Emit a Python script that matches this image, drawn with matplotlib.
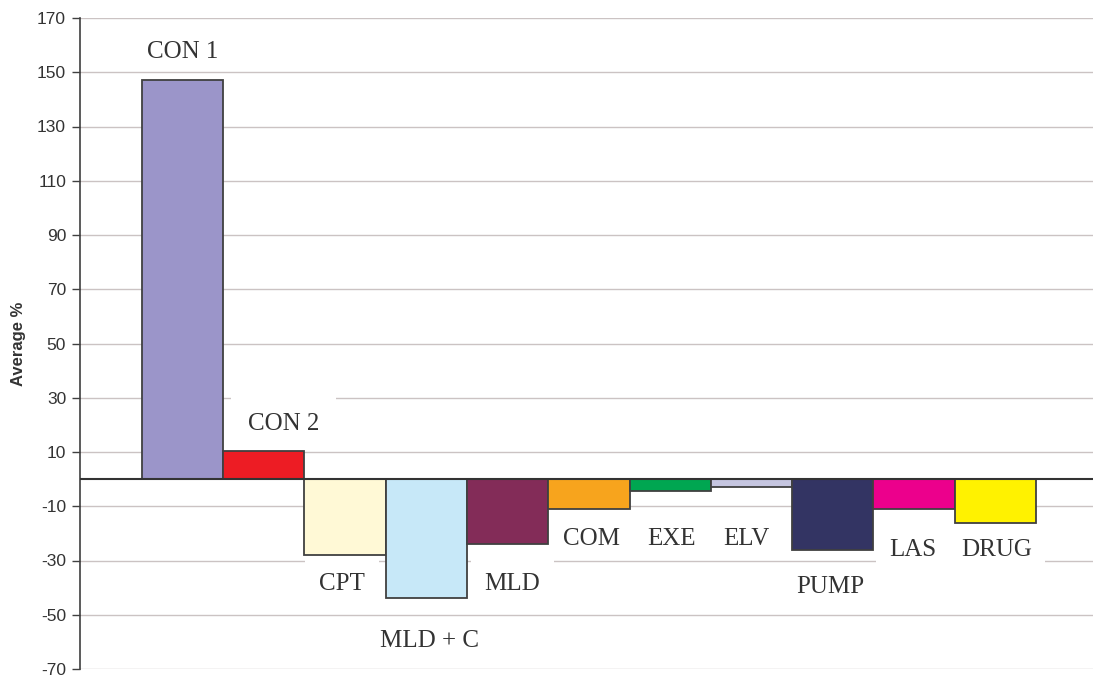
import matplotlib
matplotlib.use('Agg')
import matplotlib.pyplot as plt
import numpy as np

plt.rcParams['axes.unicode_minus'] = False

# data
categories = ['CON 1', 'CON 2', 'CPT', 'MLD + C', 'MLD', 'COM', 'EXE', 'ELV', 'PUMP', 'LAS', 'DRUG']
values = [147, 10.5, -28, -44, -24, -11, -4.5, -3, -26, -11, -16]
colors = ['#9b95c9', '#ed1c24', '#fff9d6', '#c7e8f8', '#832c58', '#f7a41d',
          '#00a651', '#c5c5e0', '#333463', '#ec008c', '#fff200']

# label placement (x in category units, y in data units) and white box pad (pt)
label_x = [0, 1.24, 1.96, 3.04, 4.06, 5.03, 6.02, 6.94, 7.97, 8.98, 10.01]
label_y = [157.5, 20.5, -38.5, -59.5, -38.5, -22, -22, -22, -39.8, -26, -26]
label_pad = [4, 12, 10, 5, 10, 4, 4, 4, 4, 9.5, 9.5]

fig = plt.figure(figsize=(10.93, 6.79), dpi=100)
ax = fig.add_axes([80 / 1093, 10 / 679, 1013 / 1093, 651 / 679])

x = np.arange(len(categories))
ax.bar(x, values, width=1.0, color=colors, edgecolor='#404040', linewidth=1.3, zorder=3)
ax.axhline(0, color='#333333', linewidth=1.5, zorder=4)

for xi, yi, txt, pad in zip(label_x, label_y, categories, label_pad):
    ax.text(xi, yi, txt, ha='center', va='center', fontsize=18,
            family='Liberation Serif', color='#333333', zorder=2,
            bbox=dict(boxstyle='square,pad=%.2f' % (pad / 18), facecolor='white', edgecolor='none'))

ax.set_xlim(-1.26, 11.2)
ax.set_ylim(-70, 170)
ax.set_yticks(np.arange(-70, 171, 20))
ax.set_xticks([])
ax.yaxis.grid(True, color='#cbc3c3', linewidth=1.0)
ax.set_axisbelow(True)

for s in ['top', 'right', 'bottom']:
    ax.spines[s].set_visible(False)
ax.spines['left'].set_color('#404040')
ax.spines['left'].set_linewidth(1.2)
ax.tick_params(axis='y', length=6, width=1.0, color='#404040', pad=4,
               labelsize=12.5, labelcolor='#333333')
for lab in ax.get_yticklabels():
    lab.set_family('Liberation Sans')

ax.set_ylabel('Average %', fontsize=12, fontweight='bold', family='Liberation Sans',
              color='#333333')
ax.yaxis.set_label_coords(-0.053, 0.5)

fig.savefig('out.png', dpi=100)
